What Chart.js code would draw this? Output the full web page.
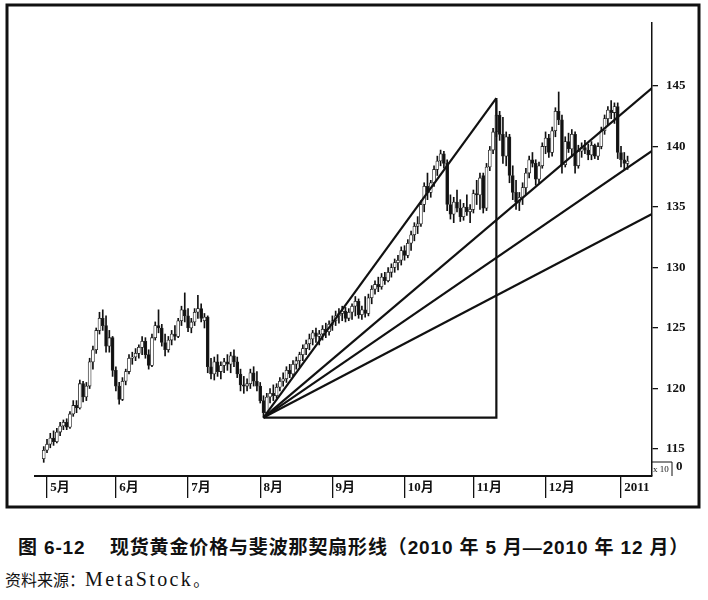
<!DOCTYPE html>
<html>
<head>
<meta charset="utf-8">
<script src="https://cdn.jsdelivr.net/npm/chart.js@4.4.0/dist/chart.umd.min.js"></script>
<style>
    body { margin: 0; background: #fff; width: 708px; height: 600px; overflow: hidden; }
    #wrap { position: absolute; left: 0; top: 0; width: 708px; height: 515px; }
    .cap { position: absolute; left: 18px; top: 532px; font: bold 19px 'Liberation Sans', 'Noto Sans CJK SC', sans-serif; letter-spacing: 0.85px; white-space: nowrap; color: #111; }
    .src { position: absolute; left: 5px; top: 567px; font: 16px 'Noto Sans CJK SC', serif; white-space: nowrap; color: #111; }
    .src span { font: 20px 'Liberation Serif', serif; letter-spacing: 2.4px; }
</style>
</head>
<body>
<div id="wrap"><canvas id="goldChart"></canvas></div>
<div class="cap">图 6-12&nbsp;&nbsp;&nbsp; 现货黄金价格与斐波那契扇形线（2010 年 5 月—2010 年 12 月）</div>
<div class="src">资料来源：<span>MetaStock</span>。</div>
<script>
// month ticks (trading-day index where each month starts)
const monthLabels = ['5月', '6月', '7月', '8月', '9月', '10月', '11月', '12月', '2011'];
const monthStart = [1, 22, 44, 66, 88, 110, 131, 153, 176];
const yTicks = [115, 120, 125, 130, 135, 140, 145];

// daily spot gold, x10 USD
const opens = [
    114.2, 114.9, 115.4, 115.9, 115.6, 116.4, 116.9, 117.2, 116.8, 117.9,
    118.6, 118.4, 120.4, 119.3, 120.2, 122.2, 123.2, 124.8, 125.8, 125.2,
    123.5, 124.2, 121.5, 120.2, 119.1, 120.6, 121.4, 122.5, 122.6, 122.9,
    123.4, 123.9, 122.8, 121.9, 124.2, 125.2, 125.0, 123.8, 123.2, 124.0,
    124.5, 124.3, 125.6, 126.5, 126.0, 125.0, 125.5, 126.3, 126.6, 125.6,
    125.9, 121.8, 121.2, 122.2, 121.4, 121.9, 122.2, 122.0, 122.7, 122.2,
    121.2, 120.3, 120.2, 120.4, 121.3, 120.6, 120.2, 119.0, 118.0, 119.3,
    119.6, 119.4, 120.1, 120.6, 120.8, 121.5, 121.2, 122.0, 122.3, 122.8,
    123.3, 123.7, 124.1, 124.6, 124.3, 124.5, 124.9, 124.7, 125.3, 125.6,
    126.0, 126.2, 126.4, 125.8, 126.3, 126.8, 127.2, 126.1, 126.5, 126.2,
    127.5, 128.2, 128.6, 128.4, 129.2, 128.9, 129.6, 130.0, 130.4, 130.6,
    131.4, 131.0, 132.0, 132.7, 133.4, 133.6, 135.2, 136.7, 136.2, 137.0,
    138.1, 138.8, 139.4, 138.6, 135.2, 134.4, 135.4, 134.9, 134.2, 135.0,
    134.6, 134.8, 136.1, 136.0, 137.6, 134.9, 138.3, 139.7, 141.2, 142.6,
    141.0, 139.2, 140.8, 137.6, 136.2, 135.4, 135.8, 136.6, 137.8, 138.9,
    138.6, 137.3, 138.4, 140.0, 140.7, 139.5, 141.3, 142.9, 142.2, 138.5,
    140.4, 139.8, 141.0, 138.4, 139.6, 139.9, 139.7, 139.3, 140.1, 139.2,
    140.0, 141.3, 142.3, 143.0, 142.8, 143.3, 139.5, 138.9, 138.6
];
const highs = [
    115.2, 115.8, 116.3, 116.5, 116.7, 117.2, 117.4, 117.5, 118.1, 119.0,
    119.0, 120.7, 120.6, 120.5, 122.5, 123.5, 125.0, 126.3, 126.5, 126.0,
    124.8, 124.3, 121.8, 120.5, 120.9, 121.6, 122.8, 123.0, 123.3, 123.6,
    124.3, 124.2, 123.2, 124.5, 125.5, 126.5, 125.3, 124.5, 124.3, 124.8,
    125.2, 125.8, 126.8, 127.9, 126.6, 125.8, 126.6, 127.7, 127.0, 126.2,
    126.0, 122.5, 122.6, 122.8, 122.2, 122.5, 122.8, 123.0, 123.2, 122.6,
    121.6, 121.0, 120.8, 121.6, 121.8, 121.4, 120.5, 119.4, 119.6, 120.0,
    120.3, 120.4, 120.9, 121.3, 121.8, 122.0, 122.3, 122.6, 123.0, 123.6,
    124.0, 124.5, 124.8, 125.0, 124.8, 125.2, 125.4, 125.6, 126.0, 126.4,
    126.6, 126.8, 126.7, 126.6, 127.0, 127.6, 127.4, 126.8, 127.6, 127.8,
    128.5, 128.9, 129.2, 129.5, 129.6, 130.0, 130.3, 130.7, 131.0, 131.7,
    131.8, 132.3, 133.0, 133.7, 134.2, 135.5, 137.0, 137.8, 137.2, 138.4,
    139.2, 139.7, 139.6, 138.9, 136.0, 135.8, 136.4, 135.6, 135.3, 136.0,
    135.2, 136.4, 137.2, 137.8, 137.8, 138.6, 140.0, 141.5, 143.8, 142.9,
    142.4, 141.2, 141.0, 138.4, 137.2, 136.2, 137.0, 138.2, 139.2, 139.5,
    138.9, 138.7, 140.3, 141.2, 141.0, 141.6, 143.2, 144.5, 142.6, 140.8,
    141.1, 141.4, 141.2, 140.1, 140.3, 140.5, 140.2, 140.4, 140.2, 140.3,
    141.6, 142.6, 143.3, 143.8, 143.6, 143.6, 140.0, 139.5, 139.2
];
const lows = [
    113.9, 114.7, 115.1, 115.3, 115.5, 116.1, 116.6, 116.6, 116.7, 117.7,
    118.0, 118.3, 118.9, 119.0, 120.0, 121.6, 122.9, 124.5, 124.8, 123.0,
    123.0, 121.0, 119.8, 118.7, 119.0, 120.3, 121.2, 122.0, 122.3, 122.5,
    122.8, 122.5, 121.6, 121.8, 124.0, 124.6, 123.5, 122.7, 123.0, 123.6,
    124.0, 124.2, 125.2, 125.5, 124.7, 124.6, 125.2, 125.8, 125.5, 125.0,
    121.3, 120.8, 120.7, 121.0, 120.8, 121.3, 121.5, 121.3, 121.8, 120.9,
    119.8, 119.6, 119.8, 120.0, 120.2, 119.8, 118.8, 117.6, 117.9, 118.8,
    119.0, 119.2, 119.8, 120.2, 120.5, 120.9, 121.0, 121.6, 121.8, 122.3,
    122.8, 123.2, 123.6, 123.8, 123.6, 124.0, 124.2, 124.4, 124.8, 125.2,
    125.4, 125.6, 125.5, 125.6, 125.7, 126.0, 125.8, 125.7, 125.9, 126.0,
    127.0, 127.8, 128.0, 128.2, 128.6, 128.8, 129.2, 129.6, 129.8, 130.2,
    130.6, 130.8, 131.4, 132.2, 132.8, 133.4, 134.6, 135.6, 135.8, 136.7,
    137.6, 138.4, 138.2, 134.7, 134.0, 133.7, 134.6, 133.8, 133.9, 134.3,
    133.7, 134.5, 135.2, 134.8, 134.5, 134.7, 138.0, 139.4, 140.8, 140.5,
    138.6, 138.4, 137.0, 135.6, 134.8, 134.7, 135.2, 136.0, 137.4, 138.3,
    136.8, 137.0, 138.2, 139.4, 139.1, 139.2, 140.8, 141.8, 137.8, 138.3,
    139.5, 139.2, 137.8, 138.2, 139.1, 139.4, 138.9, 138.9, 139.0, 138.9,
    139.8, 141.0, 141.8, 142.3, 141.9, 139.0, 138.3, 138.1, 138.1
];
const closes = [
    114.9, 115.4, 115.9, 115.6, 116.4, 116.9, 117.2, 116.8, 117.9, 118.6,
    118.4, 120.4, 119.3, 120.2, 122.2, 123.2, 124.8, 125.8, 125.2, 123.5,
    124.2, 121.5, 120.2, 119.1, 120.6, 121.4, 122.5, 122.6, 122.9, 123.4,
    123.9, 122.8, 121.9, 124.2, 125.2, 125.0, 123.8, 123.2, 124.0, 124.5,
    124.3, 125.6, 126.5, 126.0, 125.0, 125.5, 126.3, 126.6, 125.8, 125.9,
    121.8, 121.2, 122.2, 121.4, 121.9, 122.2, 122.0, 122.7, 122.2, 121.2,
    120.3, 120.2, 120.4, 121.3, 120.6, 120.2, 119.0, 118.0, 119.3, 119.6,
    119.4, 120.1, 120.6, 120.8, 121.5, 121.2, 122.0, 122.3, 122.8, 123.3,
    123.7, 124.1, 124.6, 124.3, 124.5, 124.9, 124.7, 125.3, 125.6, 126.0,
    126.2, 126.4, 125.8, 126.3, 126.8, 127.2, 126.1, 126.5, 126.2, 127.5,
    128.2, 128.6, 128.4, 129.2, 128.9, 129.6, 130.0, 130.4, 130.6, 131.4,
    131.0, 132.0, 132.7, 133.4, 133.6, 135.2, 136.7, 136.2, 137.0, 138.1,
    138.8, 139.4, 138.6, 135.2, 134.4, 135.4, 134.9, 134.2, 135.0, 134.6,
    134.8, 136.1, 136.0, 137.4, 134.9, 138.3, 139.7, 141.2, 142.6, 141.0,
    139.2, 140.8, 137.6, 136.2, 135.4, 135.8, 136.6, 137.8, 138.9, 138.6,
    137.3, 138.4, 140.0, 140.7, 139.5, 141.3, 142.9, 142.2, 138.5, 140.4,
    139.8, 141.0, 138.4, 139.6, 139.9, 139.7, 139.3, 140.1, 139.2, 140.0,
    141.3, 142.3, 143.0, 142.8, 143.3, 139.5, 138.9, 138.6, 138.8
];

// fibonacci fan: swing low (early Aug) to swing high (early Nov)
const fanLowIdx = 67;
const fanLow = 117.6;
const fanHighIdx = 138;
const fanHigh = 144.0;
const fanRatios = [1, 0.618, 0.5, 0.382];

const xMin = -2.66;
const xMax = 185.45;

const days = opens.map((o, i) => i);
const wicks = days.map(i => ({ x: i, y: [lows[i], highs[i]] }));
const bodies = days.map(i => ({ x: i, y: [opens[i], closes[i]] }));

const fanRange = fanHigh - fanLow;
const fanSets = fanRatios.map(r => {
    const slope = r * fanRange / (fanHighIdx - fanLowIdx);
    const endX = r === 1 ? fanHighIdx : xMax;
    return {
        type: 'line',
        data: [{ x: fanLowIdx, y: fanLow }, { x: endX, y: fanLow + slope * (endX - fanLowIdx) }],
        borderColor: '#111',
        borderWidth: 2.2,
        pointRadius: 0,
        order: 0
    };
});
fanSets.push({
    type: 'line',
    data: [{ x: fanLowIdx, y: fanLow }, { x: fanHighIdx, y: fanLow }, { x: fanHighIdx, y: fanHigh }],
    borderColor: '#111',
    borderWidth: 2.2,
    pointRadius: 0,
    order: 0
});

const framePlugin = {
    id: 'frame',
    afterDraw(chart) {
        const ctx = chart.ctx;
        const a = chart.chartArea;
        ctx.save();
        ctx.strokeStyle = '#111';
        ctx.lineWidth = 3;
        ctx.strokeRect(7, 5, 692, 502);
        // x10 multiplier box under the price axis
        ctx.lineWidth = 1;
        ctx.beginPath();
        ctx.moveTo(a.right, a.bottom - 14);
        ctx.lineTo(a.right + 20, a.bottom - 14);
        ctx.lineTo(a.right + 20, a.bottom);
        ctx.stroke();
        ctx.fillStyle = '#111';
        ctx.textBaseline = 'middle';
        ctx.font = '9px "Liberation Serif"';
        ctx.fillText('x 10', a.right + 1, a.bottom - 6);
        ctx.font = 'bold 13px "Liberation Serif"';
        ctx.fillText('0', a.right + 24, a.bottom - 9);
        ctx.restore();
    }
};

const ctx = document.getElementById('goldChart').getContext('2d');
const chart = new Chart(ctx, {
    type: 'bar',
    data: {
        datasets: [
            ...fanSets,
            {
                data: bodies,
                backgroundColor: c => closes[c.dataIndex] < opens[c.dataIndex] ? '#111' : '#fff',
                borderColor: '#222',
                borderWidth: 0.8,
                borderSkipped: false,
                barThickness: 3,
                grouped: false,
                order: 1
            },
            {
                data: wicks,
                backgroundColor: '#111',
                barThickness: 1,
                grouped: false,
                order: 2
            }
        ]
    },
    options: {
        responsive: true,
        maintainAspectRatio: false,
        animation: false,
        layout: { padding: { left: 35, top: 23, right: 8, bottom: 8 } },
        plugins: {
            legend: { display: false },
            tooltip: { enabled: false }
        },
        scales: {
            x: {
                type: 'linear',
                min: xMin,
                max: xMax,
                offset: false,
                afterBuildTicks: s => { s.ticks = monthStart.map(v => ({ value: v })); },
                afterFit: s => { s.height = 31; },
                grid: { drawOnChartArea: false, offset: false, tickLength: 22, color: '#111', lineWidth: 1.3 },
                border: { display: true, color: '#111', width: 2 },
                ticks: {
                    autoSkip: false,
                    maxRotation: 0,
                    align: 'start',
                    padding: -18,
                    color: '#111',
                    font: { family: "'Liberation Serif', 'Noto Sans CJK SC'", size: 13, weight: 'bold' },
                    callback: (v, i) => ' ' + monthLabels[i]
                }
            },
            y: {
                position: 'right',
                min: 112.77,
                max: 150.2,
                afterBuildTicks: s => { s.ticks = yTicks.map(v => ({ value: v })); },
                afterFit: s => { s.width = 48; },
                grid: { drawOnChartArea: false, tickLength: 6, color: '#111', lineWidth: 1.3 },
                border: { display: true, color: '#111', width: 1.5 },
                ticks: {
                    padding: 8,
                    color: '#111',
                    font: { family: "'Liberation Serif'", size: 13, weight: 'bold' }
                }
            }
        }
    },
    plugins: [framePlugin]
});
</script>
</body>
</html>
